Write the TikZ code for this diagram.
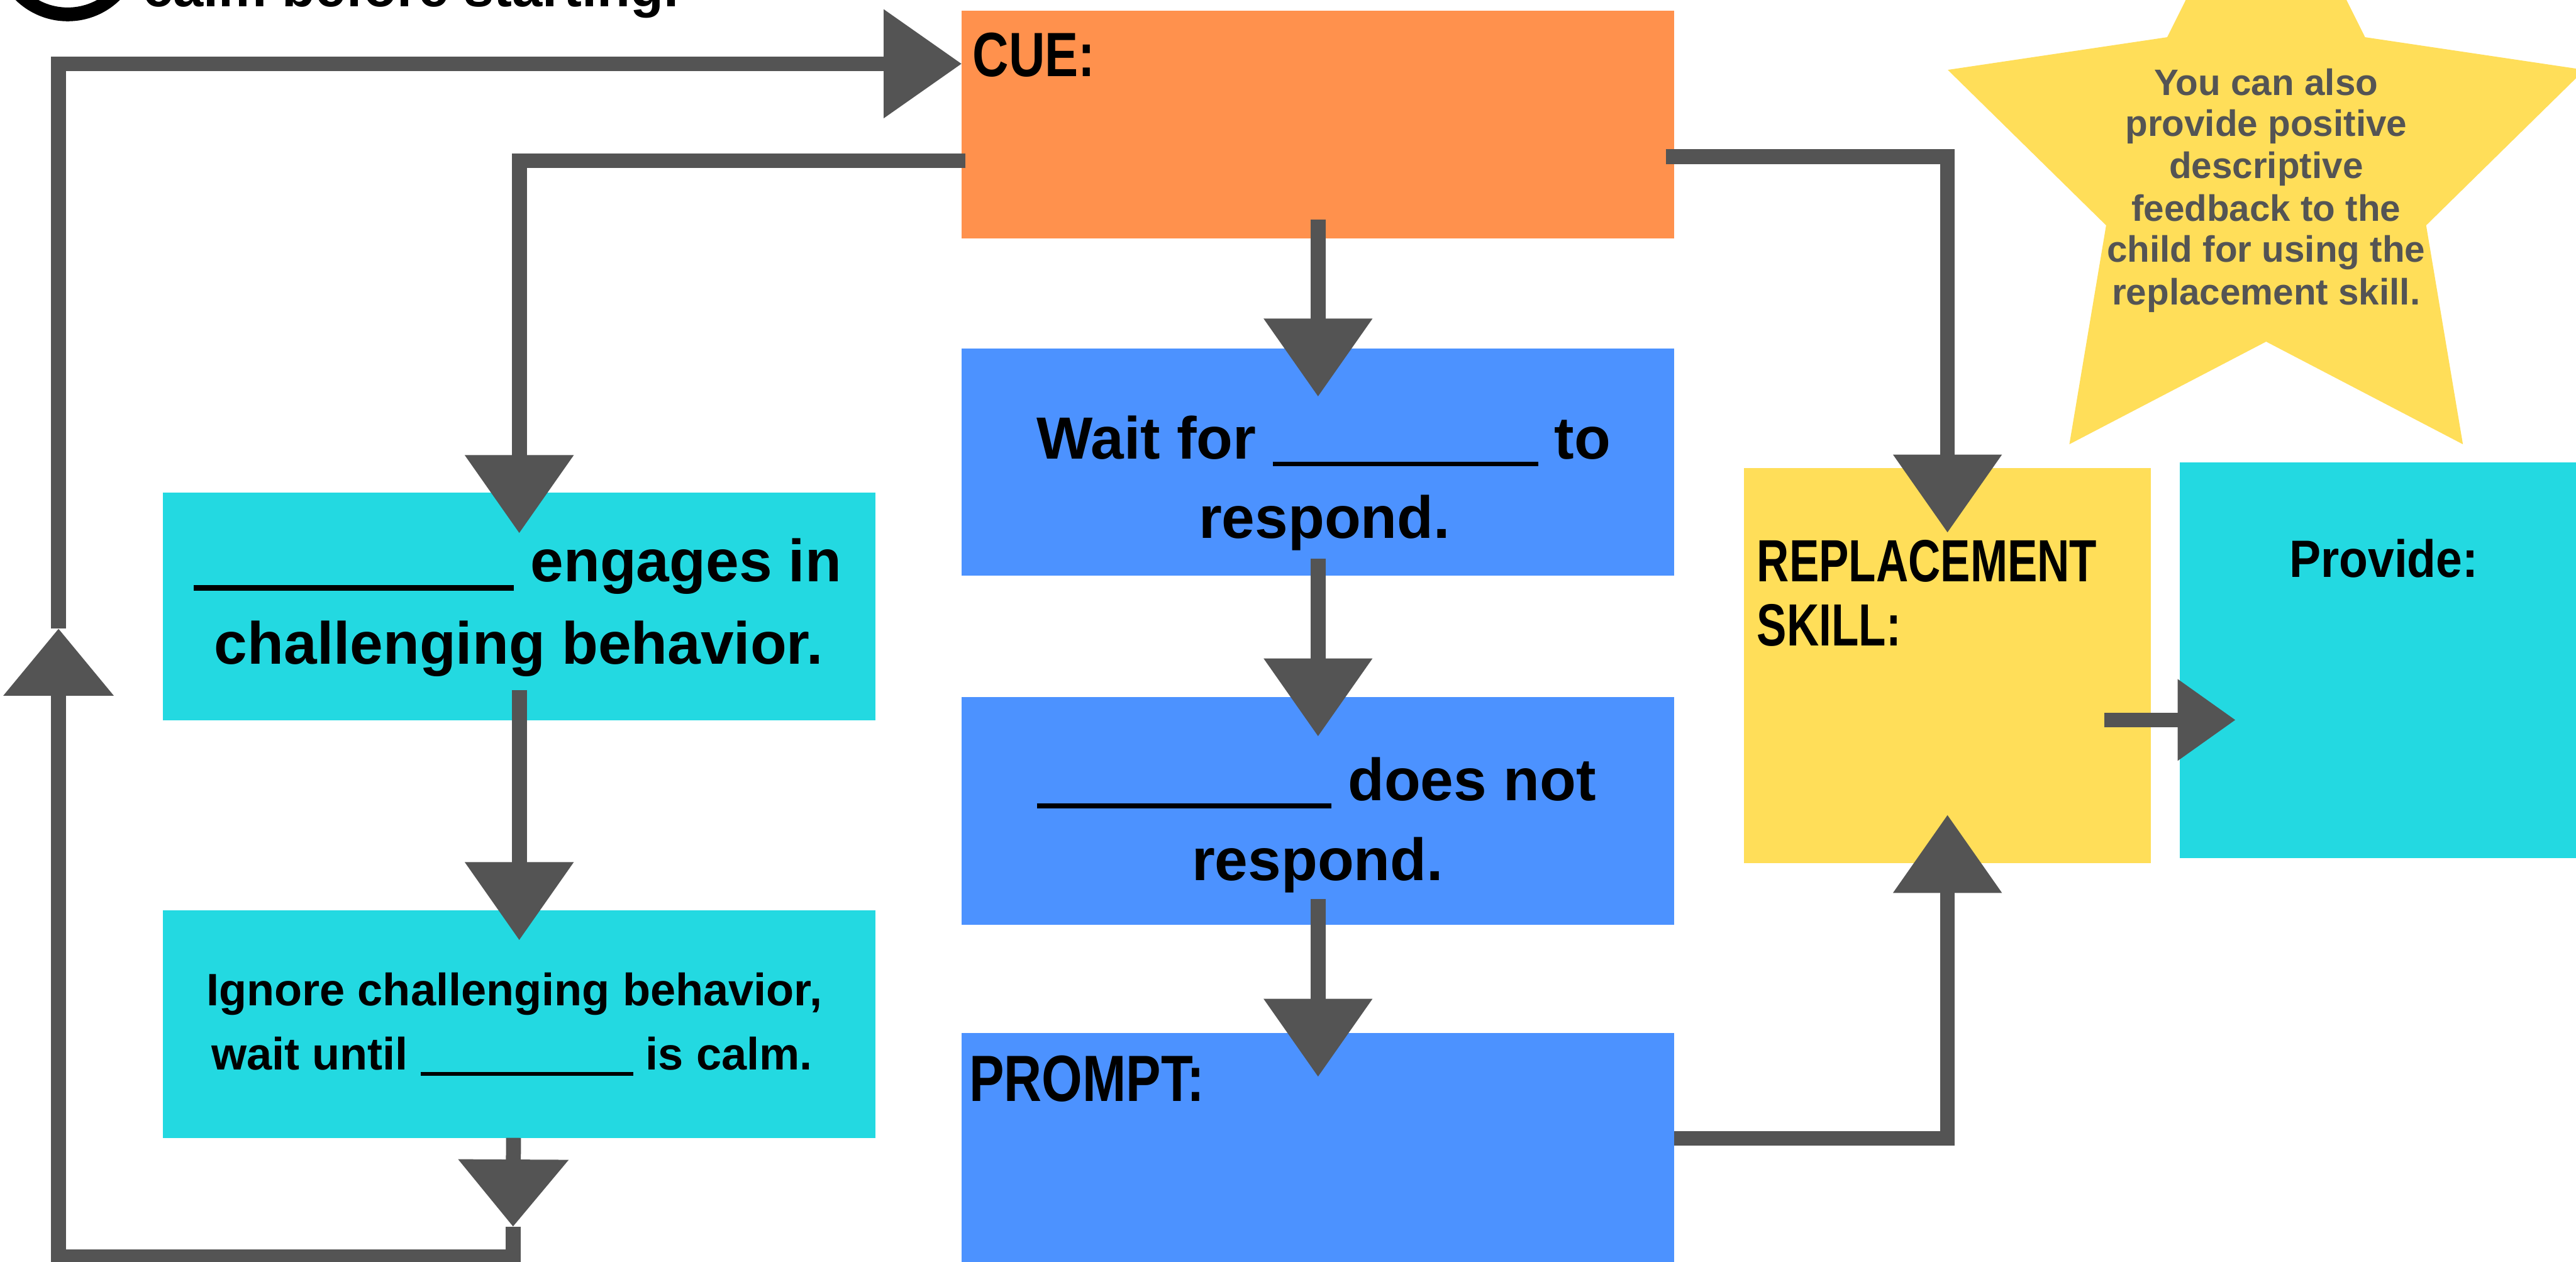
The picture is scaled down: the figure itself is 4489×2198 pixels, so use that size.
\documentclass[tikz,border=0pt]{standalone}
\usepackage{fontspec}
\setmainfont{Liberation Sans}
\usetikzlibrary{arrows.meta,shapes.geometric,calc}
\definecolor{cueor}{HTML}{FF914D}
\definecolor{blu}{HTML}{4C92FF}
\definecolor{cyn}{HTML}{23D9E1}
\definecolor{yel}{HTML}{FFDE59}
\definecolor{arr}{HTML}{545454}
\newcommand{\fz}[1]{\fontsize{#1}{#1}\selectfont\bfseries}
\tikzset{
  tipA/.tip={Triangle[length=1.36cm,width=1.83cm]},
  tipB/.tip={Triangle[length=1.17cm,width=1.86cm]},
  tipC/.tip={Triangle[length=1.01cm,width=1.35cm]},
  box/.style={rectangle, inner sep=0pt, outer sep=0pt, draw=none, anchor=north west},
  txt/.style={inner sep=0pt, outer sep=0pt, text=black},
  conn/.style={color=arr, line width=0.26cm, line join=miter},
}
\begin{document}
\begin{tikzpicture}[x=0.01cm,y=-0.01cm]
\useasboundingbox (0,0) rectangle (4489,2198);
\clip (0,0) rectangle (4489,2198);
\fill[white] (0,0) rectangle (4489,2198);

% clipped heading at the top-left
\node[circle, draw=black, line width=0.24cm, minimum size=2.36cm, inner sep=0pt] (badge) at (118,-93) {};
\node[txt, anchor=base west, font=\fz{27pt}] (head) at (249,11) {calm before starting.};

% star
\node[star, star points=5, star point ratio=1.99, minimum size=11.66cm, inner sep=0pt, fill=yel, draw=none] (star) at (3949,302) {};

% boxes
\node[box, fill=cueor, minimum width=12.41cm, minimum height=3.96cm] (cue) at (1676,19) {};
\node[box, fill=blu, minimum width=12.41cm, minimum height=3.96cm] (wait) at (1676,607) {};
\node[box, fill=blu, minimum width=12.41cm, minimum height=3.97cm] (dnr) at (1676,1214) {};
\node[box, fill=blu, minimum width=12.41cm, minimum height=4.00cm] (prompt) at (1676,1800) {};
\node[box, fill=cyn, minimum width=12.41cm, minimum height=3.97cm] (eng) at (284,858) {};
\node[box, fill=cyn, minimum width=12.41cm, minimum height=3.96cm] (ign) at (284,1586) {};
\node[box, fill=yel, minimum width=7.09cm, minimum height=6.88cm] (rep) at (3039,815) {};
\node[box, fill=cyn, minimum width=7.12cm, minimum height=6.88cm] (prov) at (3798,806) {};

% connectors
\coordinate (lpDown) at (894,2137);
\coordinate (lpBL) at (102,2190);
\coordinate (lpUp) at (102,1095);
\draw[conn,-{tipA}] ($(cue.west)+(6,63)$) -| ($(eng.north)+(0,71)$);
\draw[conn,-{tipA}] ($(cue.south)+(0,-33)$) -- ($(wait.north)+(0,84)$);
\draw[conn,-{tipA}] ($(wait.south)+(0,-30)$) -- ($(dnr.north)+(0,69)$);
\draw[conn,-{tipA}] ($(dnr.south)+(0,-45)$) -- ($(prompt.north)+(0,76)$);
\draw[conn,-{tipA}] ($(eng.south)+(0,-53)$) -- ($(ign.north)+(0,52)$);
\draw[conn,-{tipB}] ($(ign.south)+(-10,0)$) -- (lpDown);
\draw[conn,-{tipB}] (lpDown) |- (lpBL) -- (lpUp);
\draw[conn,-{tipA}] (lpUp) |- ($(cue.west)+(0,-106)$);
\draw[conn,-{tipA}] ($(cue.east)+(-15,56)$) -| ($(rep.north)+(0,113)$);
\draw[conn,-{tipA}] ($(prompt.east)+(0,-17)$) -| ($(rep.south)+(0,-84)$);
\draw[conn,-{tipC}] ($(rep.east)+(-81,95)$) -- ($(prov.west)+(98,104)$);

% texts
\node[txt, anchor=base west, font=\fz{31pt}] (cueT) at (1695,133) {\scalebox{0.8}[1]{CUE:}};
\node[txt, anchor=base, font=\fz{29.5pt}] (waitA) at (2307,800) {Wait for \rule[-0.12cm]{4.62cm}{0.08cm} to};
\node[txt, anchor=base, font=\fz{29.5pt}] (waitB) at (2308,938) {respond.};
\node[txt, anchor=base, font=\fz{29.5pt}] (dnrA) at (2294,1395) {\rule[-0.13cm]{5.13cm}{0.08cm} does not};
\node[txt, anchor=base, font=\fz{29.5pt}] (dnrB) at (2296,1534) {respond.};
\node[txt, anchor=base west, font=\fz{32.4pt}] (promptT) at (1689,1919) {\scalebox{0.8}[1]{PROMPT:}};
\node[txt, anchor=base, font=\fz{29.5pt}] (engA) at (902,1013) {\rule[-0.16cm]{5.58cm}{0.10cm} engages in};
\node[txt, anchor=base, font=\fz{29.5pt}] (engB) at (904,1157) {challenging behavior.};
\node[txt, anchor=base, font=\fz{22.5pt}] (ignA) at (896,1752) {Ignore challenging behavior,};
\node[txt, anchor=base, font=\fz{22.5pt}] (ignB) at (892,1864) {wait until \rule[-0.10cm]{3.70cm}{0.07cm} is calm.};
\node[txt, anchor=base west, font=\fz{29.5pt}] (repA) at (3062,1013) {\scalebox{0.75}[1]{REPLACEMENT}};
\node[txt, anchor=base west, font=\fz{29.5pt}] (repB) at (3062,1125) {\scalebox{0.75}[1]{SKILL:}};
\node[txt, anchor=base, font=\fz{26pt}] (provT) at (4154,1005) {\scalebox{0.9}[1]{Provide:}};
\node[txt, anchor=base, font=\fz{18.2pt}, text=arr] (s1) at (3949,166) {You can also};
\node[txt, anchor=base, font=\fz{18.2pt}, text=arr] (s2) at (3949,237) {provide positive};
\node[txt, anchor=base, font=\fz{18.2pt}, text=arr] (s3) at (3949,311) {descriptive};
\node[txt, anchor=base, font=\fz{18.2pt}, text=arr] (s4) at (3949,385) {feedback to the};
\node[txt, anchor=base, font=\fz{18.2pt}, text=arr] (s5) at (3949,457) {child for using the};
\node[txt, anchor=base, font=\fz{18.2pt}, text=arr] (s6) at (3949,531) {replacement skill.};
\end{tikzpicture}
\end{document}
